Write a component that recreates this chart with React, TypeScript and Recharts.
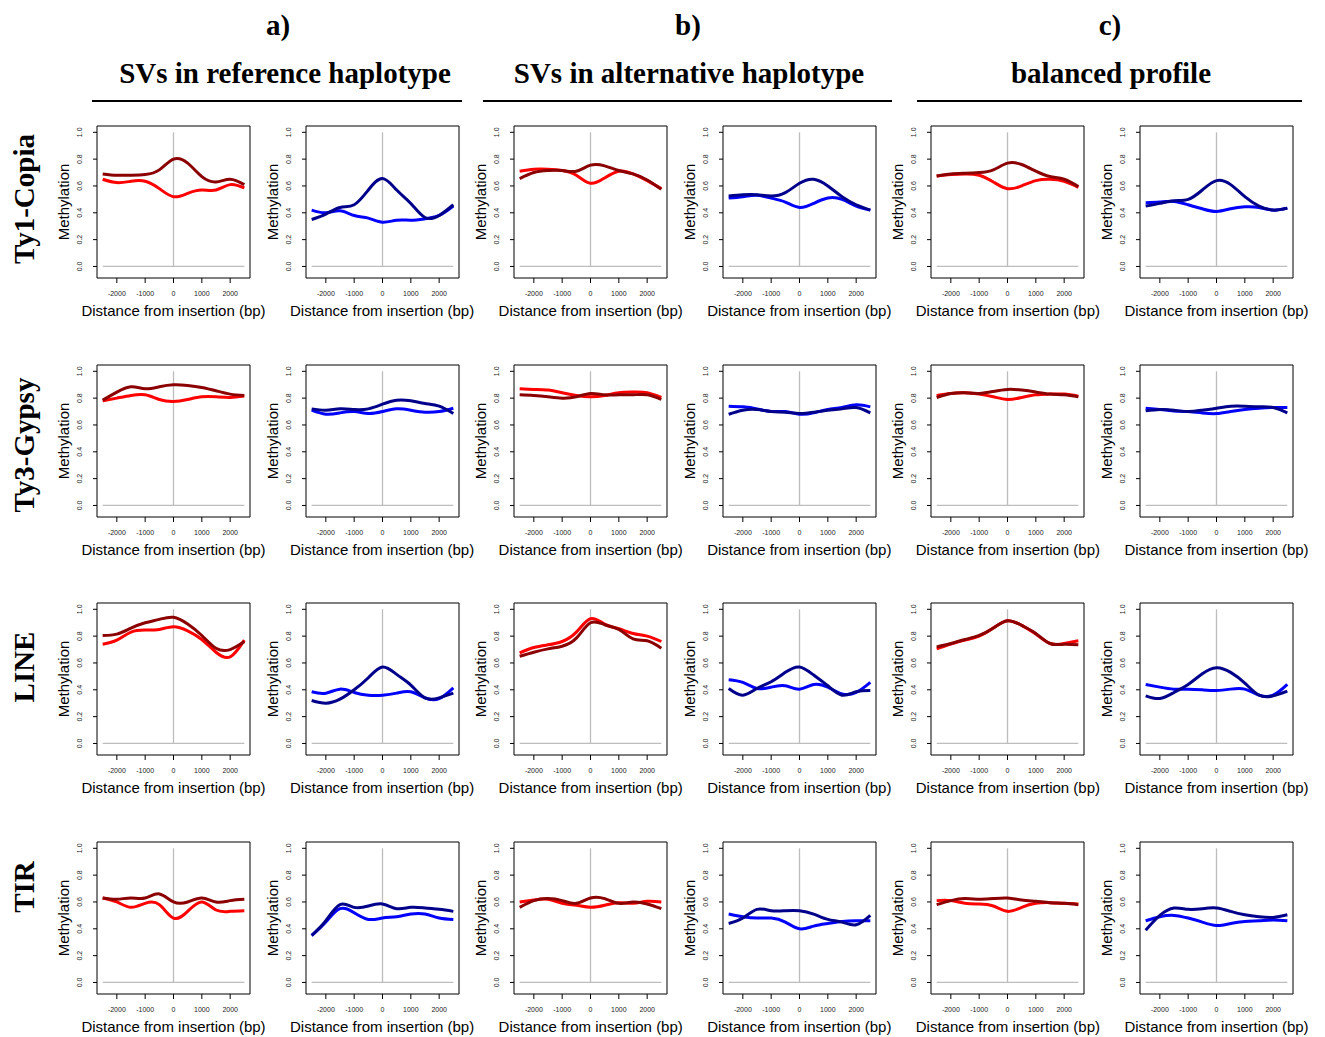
import { LineChart, Line, XAxis, YAxis, ReferenceLine, ReferenceArea } from 'recharts'

// sampling positions around the insertion site (bp)
const positions = [-2500, -2000, -1500, -1000, -500, 0, 500, 1000, 1500, 2000, 2500]
const xTicks = [-2000, -1000, 0, 1000, 2000]
const yTicks = [0, 0.2, 0.4, 0.6, 0.8, 1]

const families = ['Ty1-Copia', 'Ty3-Gypsy', 'LINE', 'TIR']
const groupLetters = ['a)', 'b)', 'c)']
const groupTitles = ['SVs in reference haplotype', 'SVs in alternative haplotype', 'balanced profile']

// Ty1-Copia
const copiaRefRedDark = [0.69, 0.68, 0.68, 0.685, 0.72, 0.8, 0.77, 0.67, 0.63, 0.65, 0.61]
const copiaRefRedLight = [0.65, 0.625, 0.635, 0.635, 0.58, 0.52, 0.545, 0.57, 0.57, 0.61, 0.585]
const copiaRefBlueDark = [0.35, 0.39, 0.44, 0.46, 0.57, 0.655, 0.57, 0.47, 0.365, 0.38, 0.46]
const copiaRefBlueLight = [0.42, 0.4, 0.415, 0.38, 0.36, 0.33, 0.345, 0.345, 0.355, 0.38, 0.45]
const copiaAltRedDark = [0.655, 0.7, 0.715, 0.715, 0.71, 0.755, 0.75, 0.715, 0.69, 0.645, 0.575]
const copiaAltRedLight = [0.71, 0.725, 0.725, 0.715, 0.68, 0.62, 0.66, 0.71, 0.69, 0.64, 0.58]
const copiaAltBlueDark = [0.525, 0.535, 0.535, 0.525, 0.55, 0.62, 0.65, 0.6, 0.52, 0.46, 0.42]
const copiaAltBlueLight = [0.51, 0.52, 0.53, 0.51, 0.48, 0.44, 0.47, 0.51, 0.5, 0.45, 0.42]
const copiaBalRedDark = [0.675, 0.69, 0.695, 0.7, 0.72, 0.77, 0.76, 0.71, 0.67, 0.65, 0.595]
const copiaBalRedLight = [0.675, 0.685, 0.69, 0.68, 0.63, 0.58, 0.6, 0.64, 0.65, 0.635, 0.59]
const copiaBalBlueDark = [0.45, 0.47, 0.49, 0.5, 0.57, 0.64, 0.61, 0.52, 0.45, 0.42, 0.435]
const copiaBalBlueLight = [0.475, 0.48, 0.485, 0.46, 0.43, 0.41, 0.43, 0.445, 0.44, 0.42, 0.435]

// Ty3-Gypsy
const gypsyRefRedDark = [0.785, 0.845, 0.885, 0.87, 0.885, 0.9, 0.895, 0.88, 0.855, 0.83, 0.82]
const gypsyRefRedLight = [0.78, 0.8, 0.82, 0.825, 0.79, 0.775, 0.79, 0.81, 0.81, 0.805, 0.815]
const gypsyRefBlueDark = [0.72, 0.71, 0.72, 0.715, 0.72, 0.755, 0.785, 0.78, 0.76, 0.74, 0.685]
const gypsyRefBlueLight = [0.71, 0.68, 0.69, 0.7, 0.685, 0.7, 0.72, 0.71, 0.695, 0.7, 0.725]
const gypsyAltRedDark = [0.825, 0.82, 0.81, 0.8, 0.81, 0.835, 0.825, 0.825, 0.825, 0.825, 0.79]
const gypsyAltRedLight = [0.87, 0.865, 0.86, 0.84, 0.82, 0.81, 0.82, 0.84, 0.845, 0.84, 0.805]
const gypsyAltBlueDark = [0.68, 0.71, 0.715, 0.7, 0.695, 0.685, 0.695, 0.71, 0.72, 0.73, 0.69]
const gypsyAltBlueLight = [0.74, 0.735, 0.72, 0.7, 0.7, 0.68, 0.69, 0.715, 0.73, 0.75, 0.735]
const gypsyBalRedDark = [0.805, 0.835, 0.84, 0.835, 0.85, 0.865, 0.86, 0.845, 0.83, 0.825, 0.81]
const gypsyBalRedLight = [0.82, 0.835, 0.84, 0.83, 0.81, 0.79, 0.805, 0.825, 0.83, 0.83, 0.815]
const gypsyBalBlueDark = [0.705, 0.715, 0.71, 0.7, 0.71, 0.725, 0.74, 0.74, 0.735, 0.73, 0.69]
const gypsyBalBlueLight = [0.725, 0.715, 0.705, 0.7, 0.69, 0.685, 0.7, 0.715, 0.725, 0.73, 0.73]

// LINE
const lineRefRedDark = [0.805, 0.815, 0.86, 0.9, 0.925, 0.94, 0.89, 0.805, 0.71, 0.7, 0.76]
const lineRefRedLight = [0.74, 0.77, 0.83, 0.845, 0.85, 0.87, 0.84, 0.775, 0.68, 0.645, 0.77]
const lineRefBlueDark = [0.32, 0.3, 0.33, 0.4, 0.49, 0.57, 0.515, 0.435, 0.34, 0.34, 0.375]
const lineRefBlueLight = [0.385, 0.375, 0.405, 0.38, 0.36, 0.36, 0.375, 0.385, 0.34, 0.335, 0.415]
const lineAltRedDark = [0.65, 0.68, 0.705, 0.725, 0.785, 0.9, 0.885, 0.85, 0.78, 0.765, 0.71]
const lineAltRedLight = [0.675, 0.715, 0.735, 0.76, 0.83, 0.93, 0.89, 0.855, 0.82, 0.8, 0.76]
const lineAltBlueDark = [0.41, 0.36, 0.41, 0.46, 0.53, 0.57, 0.51, 0.43, 0.36, 0.385, 0.395]
const lineAltBlueLight = [0.475, 0.455, 0.41, 0.42, 0.43, 0.405, 0.44, 0.42, 0.37, 0.38, 0.455]
const lineBalRedDark = [0.72, 0.745, 0.775, 0.805, 0.86, 0.915, 0.88, 0.82, 0.745, 0.74, 0.735]
const lineBalRedLight = [0.705, 0.74, 0.77, 0.8, 0.86, 0.915, 0.88, 0.815, 0.745, 0.745, 0.765]
const lineBalBlueDark = [0.355, 0.335, 0.38, 0.44, 0.52, 0.565, 0.53, 0.45, 0.36, 0.355, 0.39]
const lineBalBlueLight = [0.44, 0.42, 0.405, 0.405, 0.4, 0.395, 0.405, 0.405, 0.36, 0.36, 0.44]

// TIR
const tirRefRedDark = [0.63, 0.62, 0.63, 0.63, 0.66, 0.6, 0.6, 0.63, 0.6, 0.61, 0.62]
const tirRefRedLight = [0.63, 0.6, 0.56, 0.59, 0.58, 0.48, 0.53, 0.6, 0.54, 0.53, 0.535]
const tirRefBlueDark = [0.35, 0.46, 0.58, 0.56, 0.57, 0.585, 0.55, 0.56, 0.555, 0.545, 0.53]
const tirRefBlueLight = [0.35, 0.45, 0.55, 0.52, 0.47, 0.48, 0.49, 0.51, 0.51, 0.48, 0.47]
const tirAltRedDark = [0.56, 0.61, 0.625, 0.61, 0.59, 0.63, 0.625, 0.59, 0.6, 0.585, 0.55]
const tirAltRedLight = [0.6, 0.615, 0.62, 0.59, 0.575, 0.56, 0.575, 0.595, 0.59, 0.605, 0.6]
const tirAltBlueDark = [0.44, 0.48, 0.545, 0.535, 0.535, 0.535, 0.51, 0.47, 0.45, 0.43, 0.5]
const tirAltBlueLight = [0.51, 0.49, 0.48, 0.48, 0.45, 0.4, 0.42, 0.44, 0.455, 0.46, 0.46]
const tirBalRedDark = [0.58, 0.61, 0.625, 0.62, 0.625, 0.63, 0.615, 0.605, 0.595, 0.59, 0.58]
const tirBalRedLight = [0.61, 0.61, 0.59, 0.585, 0.57, 0.53, 0.56, 0.59, 0.595, 0.59, 0.585]
const tirBalBlueDark = [0.39, 0.5, 0.555, 0.545, 0.55, 0.555, 0.53, 0.505, 0.49, 0.485, 0.505]
const tirBalBlueLight = [0.46, 0.49, 0.5, 0.48, 0.45, 0.425, 0.44, 0.455, 0.46, 0.465, 0.46]

const RED = { dark: '#8b0000', light: '#ff0000' }
const BLUE = { dark: '#00008b', light: '#0000ff' }

type Panel = { dark: number[]; light: number[]; colors: { dark: string; light: string } }

const grid: Panel[][] = [
  [
    { dark: copiaRefRedDark, light: copiaRefRedLight, colors: RED },
    { dark: copiaRefBlueDark, light: copiaRefBlueLight, colors: BLUE },
    { dark: copiaAltRedDark, light: copiaAltRedLight, colors: RED },
    { dark: copiaAltBlueDark, light: copiaAltBlueLight, colors: BLUE },
    { dark: copiaBalRedDark, light: copiaBalRedLight, colors: RED },
    { dark: copiaBalBlueDark, light: copiaBalBlueLight, colors: BLUE },
  ],
  [
    { dark: gypsyRefRedDark, light: gypsyRefRedLight, colors: RED },
    { dark: gypsyRefBlueDark, light: gypsyRefBlueLight, colors: BLUE },
    { dark: gypsyAltRedDark, light: gypsyAltRedLight, colors: RED },
    { dark: gypsyAltBlueDark, light: gypsyAltBlueLight, colors: BLUE },
    { dark: gypsyBalRedDark, light: gypsyBalRedLight, colors: RED },
    { dark: gypsyBalBlueDark, light: gypsyBalBlueLight, colors: BLUE },
  ],
  [
    { dark: lineRefRedDark, light: lineRefRedLight, colors: RED },
    { dark: lineRefBlueDark, light: lineRefBlueLight, colors: BLUE },
    { dark: lineAltRedDark, light: lineAltRedLight, colors: RED },
    { dark: lineAltBlueDark, light: lineAltBlueLight, colors: BLUE },
    { dark: lineBalRedDark, light: lineBalRedLight, colors: RED },
    { dark: lineBalBlueDark, light: lineBalBlueLight, colors: BLUE },
  ],
  [
    { dark: tirRefRedDark, light: tirRefRedLight, colors: RED },
    { dark: tirRefBlueDark, light: tirRefBlueLight, colors: BLUE },
    { dark: tirAltRedDark, light: tirAltRedLight, colors: RED },
    { dark: tirAltBlueDark, light: tirAltBlueLight, colors: BLUE },
    { dark: tirBalRedDark, light: tirBalRedLight, colors: RED },
    { dark: tirBalBlueDark, light: tirBalBlueLight, colors: BLUE },
  ],
]

// layout of the plot boxes
const BOX_LEFT = 97
const COL_STEP = 208.6
const BOX_TOP = 126
const ROW_STEP = 238.7
const BOX_W = 153
const BOX_H = 152
const AXIS_W = 60
const PAD_TOP = 6
const PAD_RIGHT = 20
const AXIS_H = 50
const X_DOMAIN: [number, number] = [-2700, 2700]
const Y_DOMAIN: [number, number] = [-0.086, 1.047]

const sans = '"Liberation Sans", Arial, Helvetica, sans-serif'
const serif = '"Liberation Serif", "Times New Roman", Times, serif'

const rowLabelY = [199, 445, 667, 887]
const groupCenters = [278, 688, 1110]
const titleCenters = [285, 689, 1111]
const underlines = [
  [92, 462],
  [483, 892],
  [917, 1302],
]

function YTick(props: any) {
  const { x, y, payload } = props
  const tx = x - 3
  return (
    <text
      x={tx}
      y={y}
      transform={`rotate(-90 ${tx} ${y})`}
      textAnchor="middle"
      fontSize={7}
      fill="#222"
      fontFamily={sans}
    >
      {Number(payload.value).toFixed(1)}
    </text>
  )
}

function MethylationPanel({ panel, left, top }: { panel: Panel; left: number; top: number }) {
  const data = positions.map((x, i) => ({ x, dark: panel.dark[i], light: panel.light[i] }))
  const width = AXIS_W + BOX_W + PAD_RIGHT
  const height = PAD_TOP + BOX_H + AXIS_H
  return (
    <div style={{ position: 'absolute', left: left - AXIS_W, top: top - PAD_TOP, width, height }}>
      <LineChart width={width} height={height} data={data} margin={{ top: PAD_TOP, right: PAD_RIGHT, bottom: 0, left: 0 }}>
        <XAxis
          dataKey="x"
          type="number"
          domain={X_DOMAIN}
          ticks={xTicks}
          allowDataOverflow
          axisLine={false}
          tickLine={{ stroke: '#000' }}
          tickSize={5}
          tickMargin={8}
          height={AXIS_H}
          tick={{ fontSize: 7, fill: '#222', fontFamily: sans }}
          interval={0}
        />
        <YAxis
          type="number"
          domain={Y_DOMAIN}
          ticks={yTicks}
          allowDataOverflow
          axisLine={false}
          tickLine={{ stroke: '#000' }}
          tickSize={4}
          tickMargin={8}
          width={AXIS_W}
          tick={<YTick />}
          interval={0}
        />
        <ReferenceArea x1={X_DOMAIN[0]} x2={X_DOMAIN[1]} y1={Y_DOMAIN[0]} y2={Y_DOMAIN[1]} fill="none" fillOpacity={0} stroke="#000" strokeWidth={1} />
        <ReferenceLine segment={[{ x: 0, y: 0 }, { x: 0, y: 1 }]} stroke="#bdbdbd" strokeWidth={1.3} />
        <ReferenceLine segment={[{ x: -2500, y: 0 }, { x: 2500, y: 0 }]} stroke="#bdbdbd" strokeWidth={1.3} />
        <Line type="natural" dataKey="light" stroke={panel.colors.light} strokeWidth={3} dot={false} isAnimationActive={false} />
        <Line type="natural" dataKey="dark" stroke={panel.colors.dark} strokeWidth={3} dot={false} isAnimationActive={false} />
      </LineChart>
      <div
        style={{
          position: 'absolute',
          left: AXIS_W + BOX_W / 2,
          top: PAD_TOP + BOX_H + 32,
          transform: 'translate(-50%, -50%)',
          whiteSpace: 'nowrap',
          fontFamily: sans,
          fontSize: 15,
          lineHeight: 1,
          color: '#000',
        }}
      >
        Distance from insertion (bp)
      </div>
      <div
        style={{
          position: 'absolute',
          left: AXIS_W - 34,
          top: PAD_TOP + BOX_H / 2,
          transform: 'translate(-50%, -50%) rotate(-90deg)',
          whiteSpace: 'nowrap',
          fontFamily: sans,
          fontSize: 15,
          lineHeight: 1,
          color: '#000',
        }}
      >
        Methylation
      </div>
    </div>
  )
}

const centered = (x: number, y: number, extra: React.CSSProperties = {}): React.CSSProperties => ({
  position: 'absolute',
  left: x,
  top: y,
  transform: 'translate(-50%, -50%)',
  whiteSpace: 'nowrap',
  lineHeight: 1,
  ...extra,
})

export default function App() {
  return (
    <div style={{ position: 'absolute', left: 0, top: 0, width: 1325, height: 1037, background: '#fff', overflow: 'hidden' }}>
      {groupLetters.map((letter, i) => (
        <div key={letter} style={centered(groupCenters[i], 25, { fontFamily: serif, fontWeight: 'bold', fontSize: 29 })}>
          {letter}
        </div>
      ))}
      {groupTitles.map((title, i) => (
        <div key={title} style={centered(titleCenters[i], 73, { fontFamily: serif, fontWeight: 'bold', fontSize: 29 })}>
          {title}
        </div>
      ))}
      {underlines.map(([x1, x2]) => (
        <div key={x1} style={{ position: 'absolute', left: x1, top: 100, width: x2 - x1, height: 2, background: '#000' }} />
      ))}
      {families.map((family, r) => (
        <div
          key={family}
          style={centered(24, rowLabelY[r], {
            fontFamily: serif,
            fontWeight: 'bold',
            fontSize: 29,
            transform: 'translate(-50%, -50%) rotate(-90deg)',
          })}
        >
          {family}
        </div>
      ))}
      {grid.map((row, r) =>
        row.map((panel, c) => (
          <MethylationPanel
            key={`${r}-${c}`}
            panel={panel}
            left={BOX_LEFT + c * COL_STEP}
            top={BOX_TOP + r * ROW_STEP}
          />
        )),
      )}
    </div>
  )
}
